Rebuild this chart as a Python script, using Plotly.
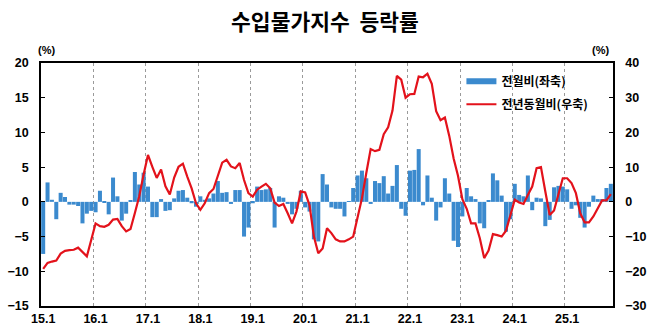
import plotly.graph_objects as go

# Categories: 2015.1 ~ 2025.11 (monthly)
categories = [f"{y % 100}.{m}" for y in range(2015, 2026) for m in range(1, 13)][:131]

# 전월비 (좌축, %)
mom = [
    -7.5, 2.8, 0.3, -2.5, 1.3, 0.7, -0.4, -0.4, -0.6, -3.1, -1.7, -1.3,
    -1.5, 1.6, -0.1, -1.8, 3.5, 0.8, -2.7, -1.7, 0.2, 4.3, 2.5, 4.2,
    2.2, -2.2, -2.2, 0.4, -1.3, -1.2, 0.5, 1.6, 1.7, 0.6, -0.2, -0.7,
    0.8, 0.3, 0.5, 1.2, 3.0, 1.3, 1.4, -0.3, 1.7, 1.7, -5.0, -3.7,
    -0.2, 2.2, 1.7, 1.8, 2.0, -3.7, 0.8, 0.6, -0.3, -1.8, -1.0, 1.6,
    -0.8, -1.4, -5.4, -5.7, 4.0, 2.5, -0.8, -1.0, -1.0, -2.1, 0.05, 2.0,
    3.8, 4.5, 3.4, -0.3, 3.0, 2.7, 3.7, 1.2, 2.3, 5.3, -1.0, -2.0,
    4.5, 4.6, 7.6, -0.5, 3.8, 0.6, -2.7, -0.8, 3.4, 1.2, -5.6, -6.5,
    -2.1, 2.0, 0.8, 0.4, -3.1, -3.8, 0.15, 4.1, 3.1, 0.9, -4.3, -2.5,
    2.6, 1.0, 0.8, 3.8, -1.2, 0.6, 0.5, -3.5, -2.6, 2.1, 2.3, 2.2,
    1.8, -1.0, -0.5, -2.3, -3.7, -0.7, 0.9, 0.4, 0.4, 2.0, 2.6,
]

# 전년동월비 (우축, %)
yoy = [
    -19.3, -17.6, -17.2, -16.9, -14.9, -14.1, -13.9, -13.8, -13.2, -14.5, -15.7, -11.0,
    -6.2, -7.0, -7.2, -6.6, -5.1, -4.9, -7.0, -8.5, -7.8, -3.2, 1.6, 7.9,
    13.5, 10.1, 6.9, 9.3, 4.5, 2.1, 7.0, 10.1, 11.0, 7.3, 3.9, -0.4,
    -2.3, -0.4, 2.5, 3.7, 7.8, 11.3, 12.1, 10.2, 9.7, 11.2, 6.3, 2.5,
    1.5, 3.5, 4.4, 5.2, 3.9, -0.2, -1.2, -0.6, -3.3, -6.2, -2.8, 3.0,
    2.7, -1.0, -10.0, -14.8, -13.4, -7.6, -9.0, -10.8, -11.4, -11.4, -10.8, -10.0,
    -4.5, 1.0, 8.3, 15.2, 14.6, 15.0, 19.5, 21.5, 26.3, 36.3, 35.2, 30.0,
    31.0, 31.1, 36.1, 35.9, 36.9, 34.0, 26.1, 23.5, 24.3, 19.0, 12.5, 7.5,
    0.8, -2.0, -6.2, -6.2, -10.5, -16.2, -14.0, -9.3, -9.6, -10.0, -8.3, -4.2,
    0.6, -0.2, -0.6, 2.0, 4.4, 9.7, 10.0, 3.0, -3.8, -2.5, 2.5, 6.8,
    6.8, 5.4, 2.5, -3.3, -5.9, -5.9, -4.2, -1.8, 0.4, 0.4, 2.2,
]

x = list(range(len(categories)))
tick_idx = [i for i, c in enumerate(categories) if c.endswith(".1") and not c.endswith(".11")]
tick_text = [categories[i] for i in tick_idx]
year_bounds = [i - 0.5 for i in tick_idx[1:]]

BLUE = "#3b8ace"
RED = "#e3121b"
KR = "Noto Sans CJK KR"
LAT = "Liberation Sans"

fig = go.Figure()
fig.add_trace(go.Bar(
    x=x, y=mom, name="전월비(좌축)", marker=dict(color=BLUE, line=dict(width=0)),
    yaxis="y", showlegend=False,
))
fig.add_trace(go.Scatter(
    x=x, y=yoy, name="전년동월비(우축)", mode="lines",
    line=dict(color=RED, width=2.2), yaxis="y2", showlegend=False,
))
# legend entries
fig.add_trace(go.Scatter(x=[None], y=[None], mode="lines", name="전월비(좌축)",
                         line=dict(color=BLUE, width=6), legendgroup="a"))
fig.add_trace(go.Scatter(x=[None], y=[None], mode="lines", name="전년동월비(우축)",
                         line=dict(color=RED, width=2), legendgroup="b"))

tickfont = dict(family=LAT, size=12.5, color="black", weight="bold")

fig.update_layout(
    width=650, height=334,
    margin=dict(l=41, r=37, t=63, b=28, autoexpand=False),
    paper_bgcolor="white", plot_bgcolor="white",
    bargap=0.08,
    title=dict(text="<b>수입물가지수  등락률</b>", x=0.5, xanchor="center",
               y=1 - 22 / 334, yref="container", yanchor="middle",
               font=dict(family=KR, size=21.5, color="black")),
    font=dict(family=LAT, color="black"),
    xaxis=dict(
        range=[-0.5, len(categories) - 0.5], automargin=False,
        tickmode="array", tickvals=tick_idx, ticktext=tick_text,
        tickfont=tickfont,
        showgrid=False, showline=True, linecolor="black", linewidth=1.5, mirror=True,
        ticks="", zeroline=False,
        minor=dict(tickmode="array", tickvals=year_bounds, showgrid=True,
                   griddash="dot", gridcolor="#9a9a9a", gridwidth=1, ticks=""),
    ),
    yaxis=dict(
        range=[-15, 20], tickmode="linear", tick0=-15, dtick=5, automargin=False,
        tickfont=tickfont,
        showgrid=False, zeroline=False, showline=True, linecolor="black", linewidth=1.5,
        ticks="inside", ticklen=4, tickcolor="black", ticklabelstandoff=8,
    ),
    yaxis2=dict(
        range=[-30, 40], tickmode="linear", tick0=-30, dtick=10, automargin=False,
        overlaying="y", side="right",
        tickfont=tickfont,
        showgrid=False, zeroline=False, showline=True, linecolor="black", linewidth=1.5,
        ticks="inside", ticklen=4, tickcolor="black", ticklabelstandoff=8,
    ),
    legend=dict(
        x=0.735, y=0.985, xanchor="left", yanchor="top",
        bgcolor="rgba(0,0,0,0)", borderwidth=0,
        font=dict(family=KR, size=12, color="black", weight="bold"),
        tracegroupgap=4, traceorder="grouped", itemwidth=30,
    ),
)
# (%) unit labels above both axes
pw, ph = 650 - 41 - 37, 334 - 63 - 28
for px in (46, 600):
    fig.add_annotation(text="<b>(%)</b>", x=(px - 41) / pw, y=(306 - 50) / ph,
                       xref="paper", yref="paper", showarrow=False,
                       xanchor="center", yanchor="middle",
                       font=dict(family=LAT, size=11, color="black"))

fig.write_html("out.html")
